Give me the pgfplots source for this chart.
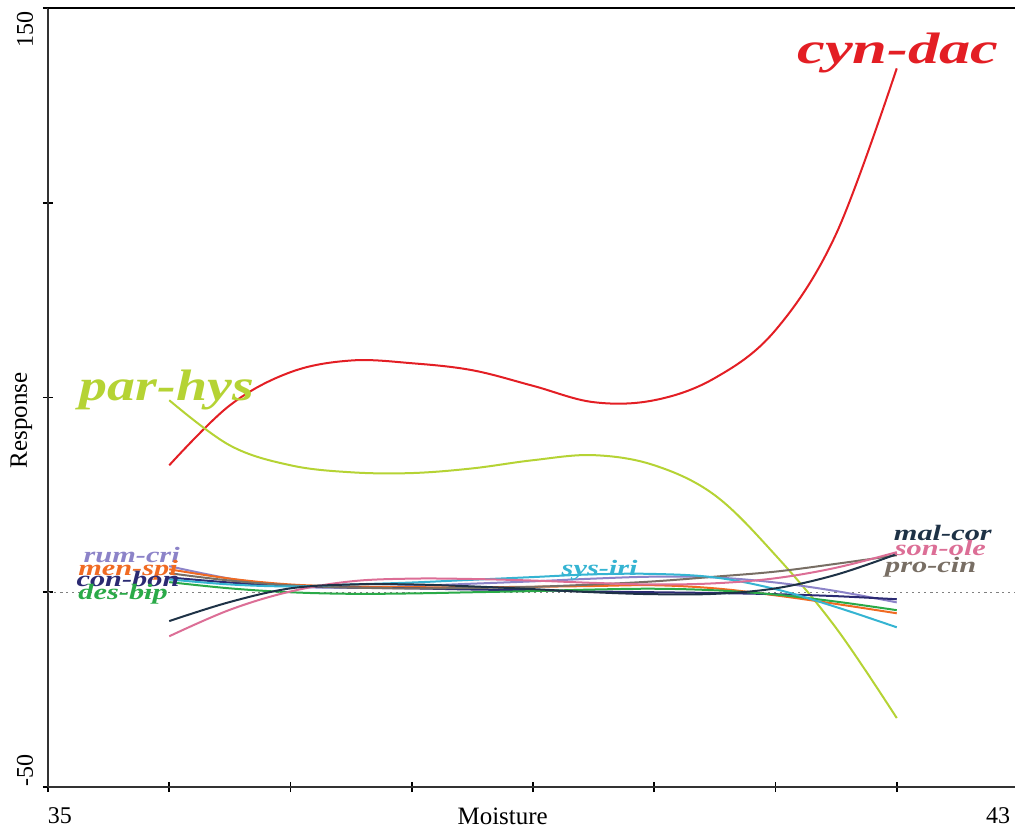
\documentclass[border=0pt]{standalone}
\usepackage{pgfplots}
\pgfplotsset{compat=1.18}
\usepackage{fontspec}
\setmainfont{Liberation Serif}
\newfontfamily\lab[FakeStretch=1.38]{Liberation Serif}
\newfontfamily\labA[FakeStretch=1.42]{Liberation Serif}
\newfontfamily\labB[FakeStretch=1.27]{Liberation Serif}
\definecolor{cyndac}{RGB}{227,30,36}
\definecolor{parhys}{RGB}{181,211,52}
\definecolor{rumcri}{RGB}{140,131,200}
\definecolor{menspi}{RGB}{240,106,34}
\definecolor{conbon}{RGB}{43,42,114}
\definecolor{desbip}{RGB}{42,170,72}
\definecolor{malcor}{RGB}{30,50,70}
\definecolor{sonole}{RGB}{220,110,150}
\definecolor{procin}{RGB}{120,110,100}
\definecolor{sysiri}{RGB}{53,180,210}
\begin{document}
\begin{tikzpicture}[every node/.style={inner sep=0pt}]
\begin{axis}[
  scale only axis, width=485pt, height=389.5pt,
  xmin=35, xmax=43, ymin=-50, ymax=150,
  axis x line*=bottom, axis y line*=left,
  xtick={35,36,...,43}, ytick={-50,0,50,100,150},
  xticklabels={}, yticklabels={},
  tick align=center, major tick length=5pt,
  tick style={black, line width=0.8pt},
  axis line style={black!80, line width=0.9pt},
  clip=false,
  every axis plot/.append style={smooth, tension=0.6, line width=1pt},
]
\coordinate (ll) at (rel axis cs:0,0);
\coordinate (ur) at (rel axis cs:1,1);
\draw[black, line width=1pt] (rel axis cs:0,1) -- (rel axis cs:1,1);
\addplot[gray, dotted, line width=0.6pt, smooth=false] coordinates {(35,0) (43,0)};

\addplot[cyndac] coordinates {(36,32.6) (36.5,48) (37,56.5) (37.5,59.5) (38,58.8) (38.5,57) (39,53) (39.5,48.8) (40,49.3) (40.5,55) (41,67.3) (41.5,92) (42,134.5)};
\addplot[parhys] coordinates {(36,49.3) (36.5,37.7) (37,32.6) (37.5,30.8) (38,30.6) (38.5,31.8) (39,33.9) (39.5,35.2) (40,32.6) (40.5,24.9) (41,9.5) (41.5,-9.2) (42,-32.3)};
\addplot[rumcri] coordinates {(36,6.7) (36.5,3.5) (37,1.5) (37.5,1.2) (38,1.6) (38.5,2.2) (39,2.8) (39.5,3.5) (40,4) (40.5,3.8) (41,2.5) (41.5,0.3) (42,-2.6)};
\addplot[menspi] coordinates {(36,5.9) (36.5,3.5) (37,2) (37.5,1.5) (38,1.3) (38.5,1.3) (39,1.4) (39.5,1.6) (40,1.8) (40.5,1) (41,-0.8) (41.5,-3) (42,-5.4)};
\addplot[conbon] coordinates {(36,3.8) (36.5,2.5) (37,1.6) (37.5,1.2) (38,1) (38.5,0.7) (39,0.5) (39.5,0.2) (40,0) (40.5,-0.2) (41,-0.5) (41.5,-1) (42,-1.8)};
\addplot[desbip] coordinates {(36,2.6) (36.5,1) (37,0) (37.5,-0.4) (38,-0.3) (38.5,0) (39,0.3) (39.5,0.7) (40,0.9) (40.5,0.5) (41,-0.6) (41.5,-2.4) (42,-4.6)};
\addplot[procin] coordinates {(36,4.9) (36.5,3) (37,1.8) (37.5,1.2) (38,1) (38.5,1.1) (39,1.4) (39.5,2) (40,2.8) (40.5,4) (41,5.3) (41.5,7.3) (42,9.5)};
\addplot[sysiri] coordinates {(36,3.3) (36.5,2) (37,1.5) (37.5,2) (38,2.5) (38.5,3.2) (39,3.9) (39.5,4.6) (40,4.7) (40.5,3.8) (41,0.8) (41.5,-3.8) (42,-9)};
\addplot[sonole] coordinates {(36,-11.3) (36.5,-4.5) (37,0.2) (37.5,2.8) (38,3.5) (38.5,3.4) (39,3) (39.5,2.4) (40,2) (40.5,2.3) (41,3.6) (41.5,6.3) (42,10.3)};
\addplot[malcor] coordinates {(36,-7.4) (36.5,-2.5) (37,1) (37.5,2) (38,2) (38.5,1.5) (39,0.8) (39.5,0) (40,-0.5) (40.5,-0.4) (41,1) (41.5,4.5) (42,9.8)};

% series labels
\node[anchor=base, text=cyndac, font={\labA\bfseries\itshape\fontsize{22}{22}\selectfont}] at (axis cs:42.01,135.8) {cyn-dac};
\node[anchor=base, text=parhys, font={\labB\bfseries\itshape\fontsize{22}{22}\selectfont}] at (axis cs:35.98,49.3) {par-hys};
\node[anchor=base, text=rumcri, font={\lab\bfseries\itshape\fontsize{11}{11}\selectfont}] at (axis cs:35.69,7.7) {rum-cri};
\node[anchor=base, text=menspi, font={\lab\bfseries\itshape\fontsize{11}{11}\selectfont}] at (axis cs:35.66,4.4) {men-spi};
\node[anchor=base, text=conbon, font={\lab\bfseries\itshape\fontsize{11}{11}\selectfont}] at (axis cs:35.66,1.6) {con-bon};
\node[anchor=base, text=desbip, font={\lab\bfseries\itshape\fontsize{11}{11}\selectfont}] at (axis cs:35.62,-1.8) {des-bip};
\node[anchor=base, text=sysiri, font={\lab\bfseries\itshape\fontsize{11}{11}\selectfont}] at (axis cs:39.55,4.4) {sys-iri};
\node[anchor=base, text=malcor, font={\lab\bfseries\itshape\fontsize{11}{11}\selectfont}] at (axis cs:42.38,13.3) {mal-cor};
\node[anchor=base, text=sonole, font={\lab\bfseries\itshape\fontsize{11}{11}\selectfont}] at (axis cs:42.36,9.5) {son-ole};
\node[anchor=base, text=procin, font={\lab\bfseries\itshape\fontsize{11}{11}\selectfont}] at (axis cs:42.28,5.1) {pro-cin};

% tick labels and axis labels
\node[anchor=base, font=\fontsize{12}{12}\selectfont] at ([xshift=6pt,yshift=-18pt]axis cs:35,-50) {35};
\node[anchor=base, font=\fontsize{12}{12}\selectfont] at ([xshift=-10pt,yshift=-18pt]axis cs:43,-50) {43};
\node[anchor=base, font=\fontsize{12.5}{12.5}\selectfont] at ([yshift=-18.5pt]axis cs:38.75,-50) {Moisture};
\node[rotate=90, anchor=base west, font=\fontsize{12}{12}\selectfont] at ([xshift=-7.5pt]axis cs:35,139.7) {150};
\node[rotate=90, anchor=base west, font=\fontsize{12}{12}\selectfont] at ([xshift=-7.5pt]axis cs:35,-50) {-50};
\node[rotate=90, anchor=base, font=\fontsize{12.5}{12.5}\selectfont] at ([xshift=-10.5pt]axis cs:35,44.2) {Response};
\end{axis}
\pgfresetboundingbox
\path ([xshift=-24pt,yshift=-24pt]ll) rectangle ([xshift=-1.5pt,yshift=4pt]ur);
\end{tikzpicture}
\end{document}
